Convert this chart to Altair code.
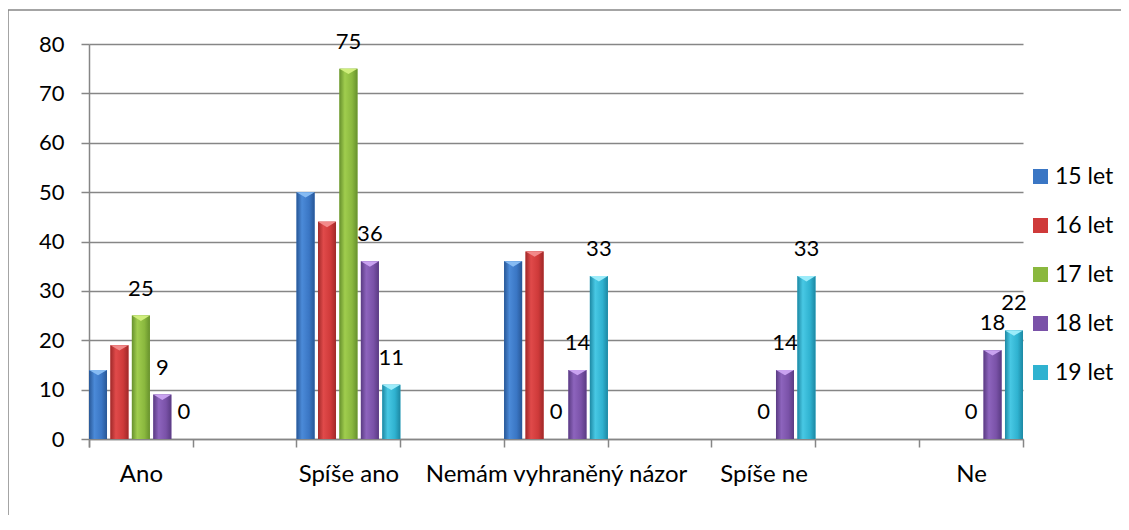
import altair as alt
import pandas as pd

categories = ["Ano", "Spíše ano", "Nemám vyhraněný názor", "Spíše ne", "Ne"]
series = ["15 let", "16 let", "17 let", "18 let", "19 let"]
v15 = [14, 50, 36, None, None]
v16 = [19, 44, 38, None, None]
v17 = [25, 75, 0, 0, 0]
v18 = [9, 36, 14, 14, 18]
v19 = [0, 11, 33, 33, 22]
labelled = ["17 let", "18 let", "19 let"]

mid = ["#3a76c4", "#cf3a3a", "#8ab83e", "#7a52a8", "#2fb2d0"]
dark = ["#285796", "#a02929", "#67912d", "#5a3b83", "#1d88a3"]
light = ["#4b8ad8", "#e04a4a", "#a0cd4e", "#8d64bd", "#48c8e4"]
caps = ["#86bbf3", "#f28a8a", "#d0ee7c", "#c9a2f0", "#9cecfa"]

FONT = "Lato"
GRAY = "#868686"
W, H = 934, 395

rows = []
for s, vals in zip(series, [v15, v16, v17, v18, v19]):
    for c, v in zip(categories, vals):
        if v is not None:
            rows.append({"cat": c, "series": s, "value": v})
df = pd.DataFrame(rows)

xscale = alt.Scale(domain=categories, paddingInner=0.5, paddingOuter=0)
oscale = alt.Scale(domain=series, paddingInner=0.16, paddingOuter=0)
yscale = alt.Scale(domain=[0, 80], nice=False)

yaxis = alt.Axis(values=list(range(0, 81, 10)), title=None, grid=True,
                 gridColor=GRAY, gridWidth=1.5, domainColor=GRAY, domainWidth=1.5,
                 tickColor=GRAY, tickSize=8, tickWidth=1.5, labelFontSize=22,
                 labelColor="black", labelFont=FONT, labelPadding=17)


def enc_x(axis=None):
    return alt.X("cat:N", sort=categories, scale=xscale, axis=axis)


def enc_o():
    return alt.XOffset("series:N", sort=series, scale=oscale)


def enc_y():
    return alt.Y("value:Q", scale=yscale, axis=yaxis)


xaxis_main = alt.Axis(title=None, labelFontSize=24, labelFont=FONT, labelColor="black",
                      labelPadding=15, tickBand="extent", tickSize=8, tickColor=GRAY,
                      tickWidth=1.5, domainColor=GRAY, domainWidth=1.5, labelAngle=0,
                      grid=False, labelLimit=0, orient="bottom")
xaxis_ticks = alt.Axis(title=None, labels=False, domain=False, ticks=True, bandPosition=0,
                       tickSize=8, tickColor=GRAY, tickWidth=1.5, grid=False, orient="bottom")

base = alt.Chart(df).mark_bar().encode(
    x=enc_x(xaxis_main), xOffset=enc_o(), y=enc_y(),
    color=alt.Color("series:N", scale=alt.Scale(domain=series, range=mid),
                    legend=alt.Legend(title=None, orient="none", legendX=940, legendY=121,
                                      symbolType="square", symbolSize=225, labelFontSize=23,
                                      labelFont=FONT, labelColor="black", rowPadding=25,
                                      labelOffset=3, symbolStrokeWidth=0)),
)

overlays = []
for i, s in enumerate(series):
    grad = alt.LinearGradient(
        gradient="linear", x1=0, y1=0, x2=1, y2=0,
        stops=[alt.GradientStop(offset=0, color=dark[i]),
               alt.GradientStop(offset=0.3, color=light[i]),
               alt.GradientStop(offset=0.7, color=mid[i]),
               alt.GradientStop(offset=1, color=dark[i])])
    overlays.append(
        alt.Chart(df).transform_filter(alt.datum.series == s).mark_bar(fill=grad).encode(
            x=enc_x(None), xOffset=enc_o(), y=enc_y()))

capmarks = alt.Chart(df).transform_filter(alt.datum.value > 0).mark_point(
    shape="M-1,0L1,0L0,0.6Z", size=324, filled=True, opacity=1, strokeWidth=0
).encode(
    x=enc_x(xaxis_ticks), xOffset=enc_o(), y=enc_y(),
    fill=alt.Fill("series:N", scale=alt.Scale(domain=series, range=caps), legend=None),
)

labels = alt.Chart(df).transform_filter(
    alt.FieldOneOfPredicate(field="series", oneOf=labelled)
).mark_text(dy=-27, baseline="middle", fontSize=22, font=FONT, color="black").encode(
    x=enc_x(None), xOffset=enc_o(), y=enc_y(), text=alt.Text("value:Q"))

frame_df = pd.DataFrame({"frame": [0]})
frame_left = alt.Chart(frame_df).mark_rule(color=GRAY, strokeWidth=1.5, clip=False).encode(
    x=alt.value(-81), y=alt.value(-34), y2=alt.value(H + 80))
frame_top = alt.Chart(frame_df).mark_rule(color=GRAY, strokeWidth=1.5, clip=False).encode(
    x=alt.value(-81), x2=alt.value(W + 98), y=alt.value(-34))

chart = alt.layer(base, *overlays, capmarks, labels, frame_left, frame_top).resolve_axis(
    x="independent"
).properties(
    width=W, height=H,
    autosize=alt.AutoSizeParams(type="none"),
    padding={"left": 81, "top": 36, "right": 98, "bottom": 76},
).configure_view(stroke=None)

chart.save("out.html", embed_options={"renderer": "svg", "actions": False})
